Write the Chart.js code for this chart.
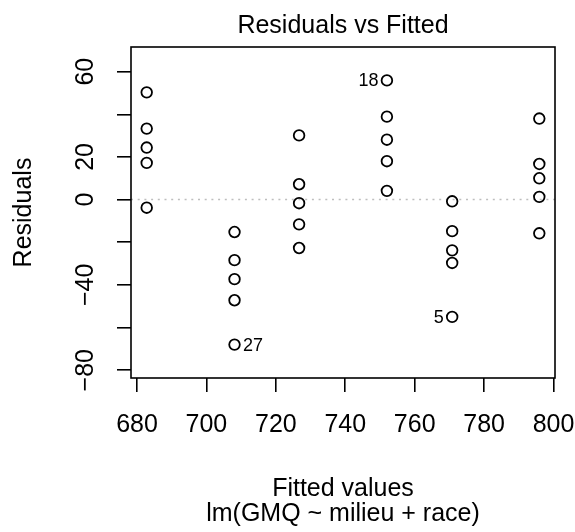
<!DOCTYPE html>
<html>
<head>
<meta charset="utf-8">
<script src="https://cdn.jsdelivr.net/npm/chart.js@4.4.1/dist/chart.umd.min.js"></script>
<style>
  html, body { margin: 0; padding: 0; background: #fff; }
  #wrap { width: 575px; height: 532px; }
</style>
</head>
<body>
<div id="wrap"><canvas id="residChart" width="575" height="532"></canvas></div>
<script>
// fitted values and residuals, one group per fitted level
const fitted = [
    682.8, 682.8, 682.8, 682.8, 682.8,
    708.1, 708.1, 708.1, 708.1, 708.1,
    726.7, 726.7, 726.7, 726.7, 726.7,
    752.0, 752.0, 752.0, 752.0, 752.0,
    770.8, 770.8, 770.8, 770.8, 770.8,
    795.9, 795.9, 795.9, 795.9, 795.9
];
const residuals = [
    50.3, 33.3, 24.4, 17.2, -3.8,
    -15.2, -28.4, -37.3, -47.2, -68.0,
    30.1, 7.2, -1.7, -11.6, -22.7,
    55.9, 38.9, 28.1, 18.0, 4.1,
    -0.8, -14.8, -23.8, -29.7, -55.0,
    38.0, 16.7, 10.0, 1.3, -15.8
];
// observations flagged with their number
const labeledIndex = [15, 9, 24];
const labeledText = ['18', '27', '5'];

const xTicks = [680, 700, 720, 740, 760, 780, 800];
const yTicks = [-80, -60, -40, -20, 0, 20, 40, 60];
const yTickLabels = [-80, -40, 0, 20, 60];

const mainTitle = 'Residuals vs Fitted';
const xTitle = ['Fitted values', 'lm(GMQ ~ milieu + race)'];
const yTitle = 'Residuals';

const FONT = "'Liberation Sans', Arial, Helvetica, sans-serif";

// same padding rule as plot.lm + par("yaxs") = "r"
function extend(lo, hi, f) {
    const d = (hi - lo) * f;
    return [lo - d, hi + d];
}
const xr = extend(Math.min(...fitted), Math.max(...fitted), 0.04);
const yr0 = extend(Math.min(...residuals), Math.max(...residuals), 0.08);
const yr = extend(yr0[0], yr0[1], 0.04);

const minus = v => (v < 0 ? '\u2212' + Math.abs(v) : String(v));

const rPlotExtras = {
    id: 'rPlotExtras',
    beforeDatasetsDraw(chart) {
        const { ctx, chartArea: a, scales: { y } } = chart;
        const y0 = y.getPixelForValue(0);
        ctx.save();
        ctx.strokeStyle = '#bebebe';
        ctx.lineWidth = 1.5;
        ctx.setLineDash([2, 4.7]);
        ctx.beginPath();
        ctx.moveTo(a.left, y0);
        ctx.lineTo(a.right, y0);
        ctx.stroke();
        ctx.restore();
    },
    afterDatasetsDraw(chart) {
        const { ctx, chartArea: a } = chart;
        const meta = chart.getDatasetMeta(0);
        const midX = (xr[0] + xr[1]) / 2;
        ctx.save();
        // box
        ctx.strokeStyle = '#000';
        ctx.lineWidth = 1.6;
        ctx.strokeRect(a.left, a.top, a.right - a.left, a.bottom - a.top);
        // title
        ctx.fillStyle = '#000';
        ctx.font = '25px ' + FONT;
        ctx.textAlign = 'center';
        ctx.textBaseline = 'alphabetic';
        ctx.fillText(mainTitle, (a.left + a.right) / 2, 33);
        // id labels
        ctx.font = '18px ' + FONT;
        ctx.textBaseline = 'middle';
        labeledIndex.forEach((idx, i) => {
            const pt = meta.data[idx];
            const onLeft = fitted[idx] > midX;
            ctx.textAlign = onLeft ? 'right' : 'left';
            ctx.fillText(labeledText[i], pt.x + (onLeft ? -8.5 : 8.5), pt.y + 1);
        });
        ctx.restore();
    }
};

new Chart(document.getElementById('residChart').getContext('2d'), {
    type: 'scatter',
    data: {
        datasets: [{
            data: fitted.map((f, i) => ({ x: f, y: residuals[i] })),
            pointStyle: 'circle',
            pointRadius: 5.3,
            pointBorderWidth: 1.8,
            pointBorderColor: '#000',
            pointBackgroundColor: 'rgba(0,0,0,0)'
        }]
    },
    options: {
        responsive: false,
        animation: false,
        events: [],
        layout: { padding: { top: 47, right: 20, left: 0, bottom: 0 } },
        plugins: { legend: { display: false }, tooltip: { enabled: false }, title: { display: false } },
        scales: {
            x: {
                type: 'linear',
                min: xr[0],
                max: xr[1],
                afterBuildTicks: s => { s.ticks = xTicks.map(v => ({ value: v })); },
                afterFit: s => { s.height = 154; s.paddingLeft = 0; s.paddingRight = 0; },
                border: { display: false },
                grid: { drawOnChartArea: false, drawTicks: true, tickLength: 14, color: '#000', tickColor: '#000', lineWidth: 1.6 },
                ticks: {
                    autoSkip: false, maxRotation: 0, minRotation: 0, padding: 20.5, color: '#000',
                    font: { family: FONT, size: 25, lineHeight: 1 },
                    callback: v => String(v)
                },
                title: {
                    display: true, text: xTitle, color: '#000',
                    font: { family: FONT, size: 25, lineHeight: 1 },
                    padding: { top: 0, bottom: 5.5 }
                }
            },
            y: {
                type: 'linear',
                min: yr[0],
                max: yr[1],
                afterBuildTicks: s => { s.ticks = yTicks.map(v => ({ value: v })); },
                afterFit: s => { s.width = 131; s.paddingTop = 0; s.paddingBottom = 0; },
                border: { display: false },
                grid: { drawOnChartArea: false, drawTicks: true, tickLength: 14, color: '#000', tickColor: '#000', lineWidth: 1.6 },
                ticks: {
                    autoSkip: false, minRotation: 90, maxRotation: 90, crossAlign: 'center', padding: 10, color: '#000',
                    font: { family: FONT, size: 25, lineHeight: 1 },
                    callback: v => (yTickLabels.includes(v) ? minus(v) : '')
                },
                title: {
                    display: true, text: yTitle, color: '#000',
                    font: { family: FONT, size: 25, lineHeight: 1 },
                    padding: { top: 11.5, bottom: 0 }
                }
            }
        }
    },
    plugins: [rPlotExtras]
});
</script>
</body>
</html>
